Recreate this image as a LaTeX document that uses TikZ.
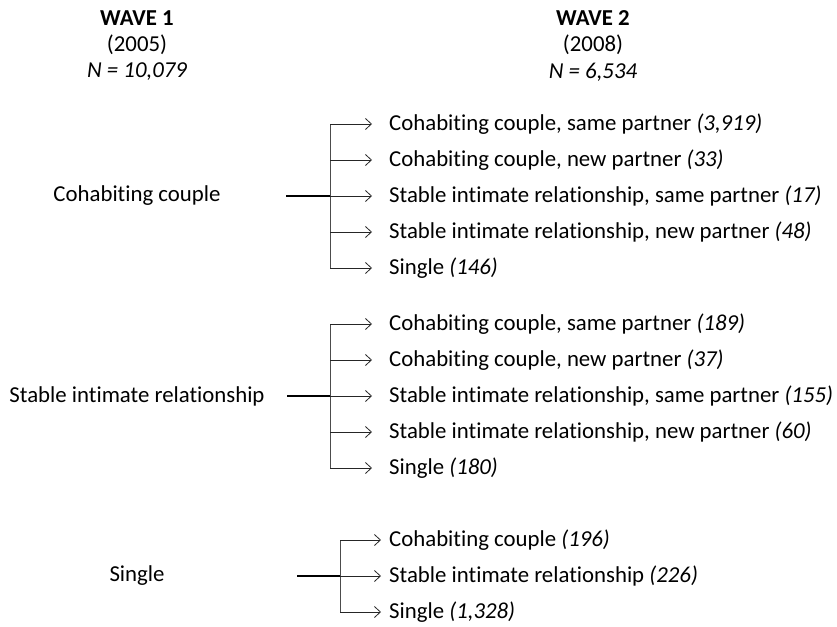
\documentclass[tikz,border=0pt]{standalone}
\usepackage{fontspec}
\setmainfont{Carlito}[Ligatures=NoCommon]
\usetikzlibrary{arrows.meta}
\begin{document}
\begin{tikzpicture}[x=1pt,y=-1pt,
  txt/.style={inner sep=0pt,font=\fontsize{22.8}{26}\selectfont},
  rt/.style={txt,anchor=west},
  inline/.style={line width=1.2pt,black},
  vline/.style={line width=0.9pt,black!70},
  arr/.style={line width=0.8pt,black!85,-{Straight Barb[length=6pt,width=11pt,line width=0.8pt]}}]
\useasboundingbox (0,0) rectangle (837,626);
% headers
\node[txt,font=\fontsize{22.8}{26}\selectfont\bfseries] (w1) at (137,18) {WAVE 1};
\node[txt] (w1y) at (137,45) {(2005)};
\node[txt,font=\fontsize{22.8}{26}\selectfont\itshape] (w1n) at (137,72) {N = 10,079};
\node[txt,font=\fontsize{22.8}{26}\selectfont\bfseries] (w2) at (593,18) {WAVE 2};
\node[txt] (w2y) at (593,45) {(2008)};
\node[txt,font=\fontsize{22.8}{26}\selectfont\itshape] (w2n) at (593,72) {N = 6,534};
% group labels
\node[txt] (g1) at (137,196) {Cohabiting couple};
\node[txt] (g2) at (137,396) {Stable intimate relationship};
\node[txt] (g3) at (137,576) {Single};
% right column
\node[rt] (r11) at (389,124) {Cohabiting couple, same partner \textit{(3,919)}};
\node[rt] (r12) at (389,160) {Cohabiting couple, new partner \textit{(33)}};
\node[rt] (r13) at (389,196) {Stable intimate relationship, same partner \textit{(17)}};
\node[rt] (r14) at (389,232) {Stable intimate relationship, new partner \textit{(48)}};
\node[rt] (r15) at (389,268) {Single \textit{(146)}};
\node[rt] (r21) at (389,324) {Cohabiting couple, same partner \textit{(189)}};
\node[rt] (r22) at (389,360) {Cohabiting couple, new partner \textit{(37)}};
\node[rt] (r23) at (389,396) {Stable intimate relationship, same partner \textit{(155)}};
\node[rt] (r24) at (389,432) {Stable intimate relationship, new partner \textit{(60)}};
\node[rt] (r25) at (389,468) {Single \textit{(180)}};
\node[rt] (r31) at (389,540) {Cohabiting couple \textit{(196)}};
\node[rt] (r32) at (389,576) {Stable intimate relationship \textit{(226)}};
\node[rt] (r33) at (389,612) {Single \textit{(1,328)}};
% branch coordinates
\coordinate (s1) at (286,196);
\coordinate (b1) at (330,196);
\coordinate (s2) at (287,396);
\coordinate (b2) at (330,396);
\coordinate (s3) at (297,576);
\coordinate (b3) at (340,576);
% group 1
\draw[vline] (b1 |- r11) -- (b1 |- r15);
\draw[inline] (s1) -- (b1);
\foreach \r in {r11,r12,r13,r14,r15}
  \draw[arr] (b1 |- \r) -- ([xshift=-17pt]\r.west);
% group 2
\draw[vline] (b2 |- r21) -- (b2 |- r25);
\draw[inline] (s2) -- (b2);
\foreach \r in {r21,r22,r23,r24,r25}
  \draw[arr] (b2 |- \r) -- ([xshift=-17pt]\r.west);
% group 3
\draw[vline] (b3 |- r31) -- (b3 |- r33);
\draw[inline] (s3) -- (b3);
\foreach \r in {r31,r32,r33}
  \draw[arr] (b3 |- \r) -- ([xshift=-8pt]\r.west);
\end{tikzpicture}
\end{document}
